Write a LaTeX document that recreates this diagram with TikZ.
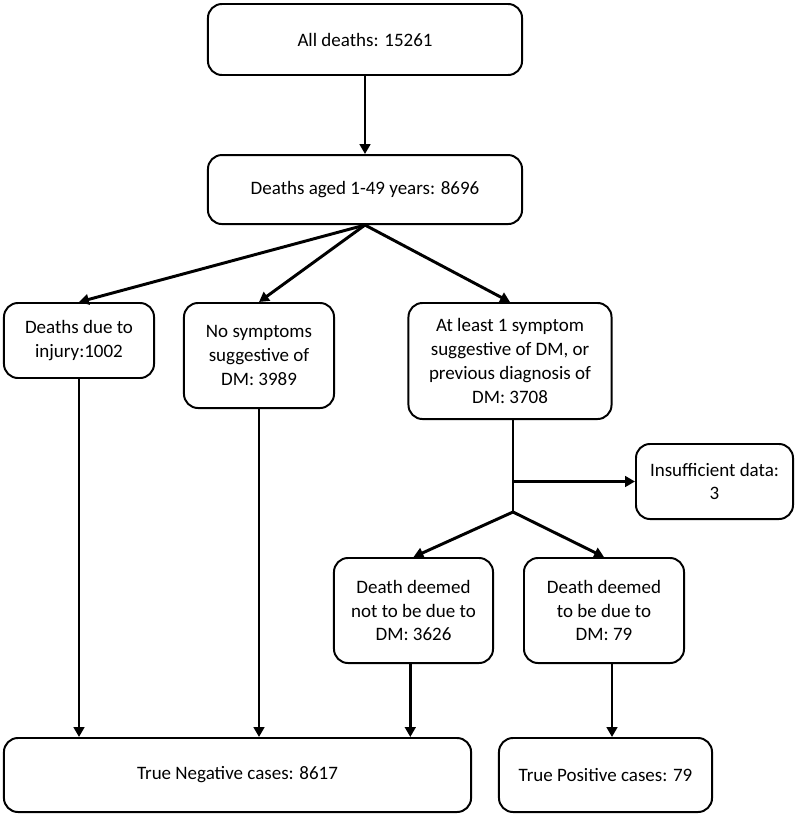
\documentclass[tikz,border=0pt]{standalone}
\usepackage{fontspec}
\setmainfont{Carlito}
\usetikzlibrary{calc}
\usetikzlibrary{shapes,arrows,arrows.meta,positioning}

\begin{document}
\begin{tikzpicture}[x=0.025cm, y=-0.025cm, node distance=3.75cm, auto]
    % Define block styles
    \tikzstyle{block} = [rectangle, rounded corners=0.35cm, align=center, draw=black, line width=1.4pt, font=\fontsize{13.5}{17}\selectfont, inner sep=2pt]
    \tikzstyle{arrow} = [line width=2.1pt, -{Triangle[length=7pt,width=7.5pt]}]
    \tikzstyle{line} = [line width=0.8pt]

    \useasboundingbox (0,0) rectangle (796,815);

    % Nodes
    \node (start) [block, minimum width=7.85cm, minimum height=1.775cm] at (365,39.5) {All deaths: 15261};
    \node (aged) [block, minimum width=7.85cm, minimum height=1.725cm, below of=start] {Deaths aged 1-49 years: 8696};
    \node (injury) [block, minimum width=3.75cm, minimum height=1.875cm] at (79,340.5) {Deaths due to\\injury:1002};
    \node (nosym) [block, minimum width=3.75cm, minimum height=2.625cm] at (259,355.5) {No symptoms\\suggestive of\\DM: 3989};
    \node (atleast) [block, minimum width=5.075cm, minimum height=2.9cm] at (510,361) {At least 1 symptom\\suggestive of DM, or\\previous diagnosis of\\DM: 3708};
    \node (insuff) [block, minimum width=3.925cm, minimum height=1.875cm] at (714.5,481.5) {Insufficient data:\\3};
    \node (dnot) [block, minimum width=3.975cm, minimum height=2.625cm] at (413.5,610.5) {Death deemed\\not to be due to\\DM: 3626};
    \node (ddue) [block, minimum width=4cm, minimum height=2.625cm] at (604,610.5) {Death deemed\\to be due to\\DM: 79};
    \node (tneg) [block, minimum width=11.675cm, minimum height=1.85cm] at (237.5,775) {True Negative cases: 8617};
    \node (tpos) [block, minimum width=5.325cm, minimum height=1.85cm] at (605.5,775) {True Positive cases: 79};

    % Branch points
    \coordinate (split1) at (aged.south);
    \coordinate (split2) at (513,512);

    % Arrows between nodes
    \draw [arrow] (start) -- (aged);
    \draw [arrow] (split1) -- (injury.north);
    \draw [arrow] (split1) -- (nosym.north);
    \draw [arrow] (split1) -- (atleast.north);
    \draw [line] (split2 |- atleast.south) -- (split2);
    \draw [arrow] (split2 |- insuff.west) -- (insuff.west);
    \draw [arrow] (split2) -- (dnot.north);
    \draw [arrow] (split2) -- (ddue.north);
    \draw [arrow] (injury) -- (injury |- tneg.north);
    \draw [arrow] (nosym) -- (nosym |- tneg.north);
    \draw [arrow] ([xshift=-0.08cm]dnot.south) -- ([xshift=-0.08cm]dnot.south |- tneg.north);
    \draw [arrow] ([xshift=0.2cm]ddue.south) -- ([xshift=0.2cm]ddue.south |- tpos.north);
\end{tikzpicture}
\end{document}
